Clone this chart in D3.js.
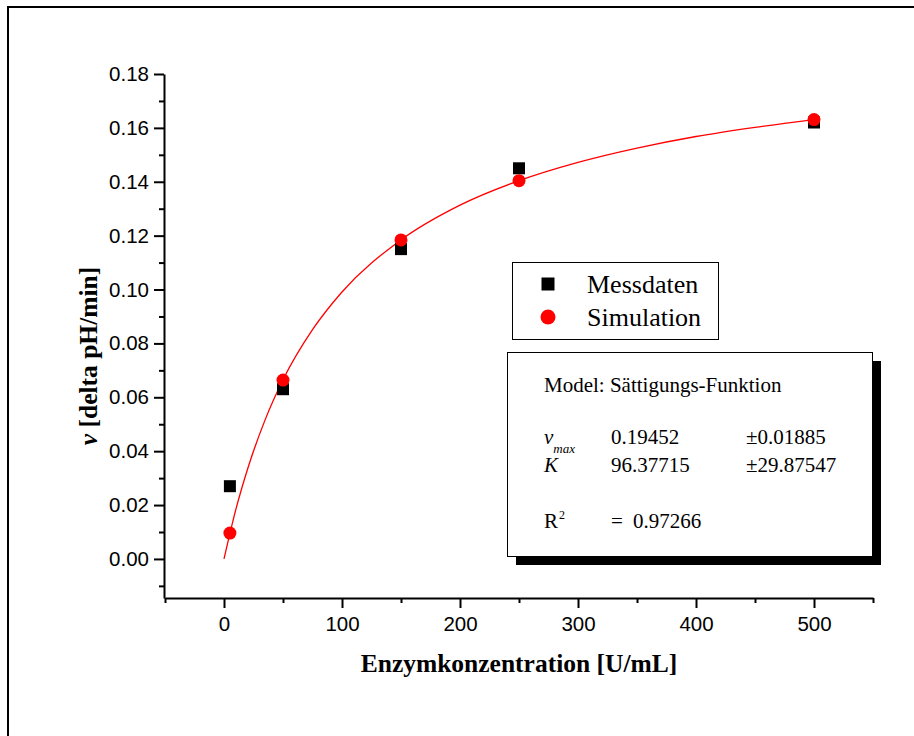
<!DOCTYPE html>
<html>
<head>
<meta charset="utf-8">
<script src="https://cdn.jsdelivr.net/npm/d3@7"></script>
<style>
  body { margin: 0; background: #fff; }
  svg { display: block; }
  .tick text { font-family: "Liberation Sans", Arial, sans-serif; font-size: 20.5px; fill: #000; }
  .axis path, .axis line { stroke: #000; stroke-width: 2px; }
  .serif { font-family: "Liberation Serif", "Times New Roman", serif; fill: #000; }
</style>
</head>
<body>
<svg></svg>
<script>
// enzyme concentration [U/mL]
const conc = [5, 50, 150, 250, 500];
const messdaten = [0.027, 0.063, 0.115, 0.145, 0.162];
const simulation = [0.0096, 0.0664, 0.1184, 0.1404, 0.1631];

// fitted saturation curve
const fitX = [0, 10, 20, 35, 50, 75, 100, 150, 200, 250, 300, 350, 400, 450, 500];
const fitY = [0, 0.0183, 0.0334, 0.0518, 0.0665, 0.0851, 0.0991, 0.1184, 0.1313, 0.1404, 0.1472, 0.1525, 0.1568, 0.1602, 0.1631];

const xTicks = [0, 100, 200, 300, 400, 500];
const xMinor = [-50, 50, 150, 250, 350, 450, 550];
const yTicks = [0, 0.02, 0.04, 0.06, 0.08, 0.10, 0.12, 0.14, 0.16, 0.18];
const yMinor = [-0.01, 0.01, 0.03, 0.05, 0.07, 0.09, 0.11, 0.13, 0.15, 0.17];

const legendNames = ['Messdaten', 'Simulation'];

const width = 914, height = 736;
const svg = d3.select('svg').attr('width', width).attr('height', height);

// page frame (left + top only)
svg.append('path')
    .attr('d', 'M8,' + height + 'V7H' + width)
    .attr('fill', 'none')
    .attr('stroke', '#000')
    .attr('stroke-width', 2);

const x = d3.scaleLinear().domain([-50, 550]).range([165, 873]);
const y = d3.scaleLinear().domain([-0.0145, 0.18]).range([598, 74]);

// minor ticks
svg.append('g')
    .attr('class', 'axis')
    .attr('transform', 'translate(0,598)')
    .call(d3.axisBottom(x).tickValues(xMinor).tickSize(5).tickFormat(''))
    .call(g => g.select('.domain').remove());
svg.append('g')
    .attr('class', 'axis')
    .attr('transform', 'translate(164,0)')
    .call(d3.axisLeft(y).tickValues(yMinor).tickSize(5).tickFormat(''))
    .call(g => g.select('.domain').remove());

// major axes
svg.append('g')
    .attr('class', 'axis')
    .attr('transform', 'translate(0,598)')
    .call(d3.axisBottom(x).tickValues(xTicks).tickSize(10).tickSizeOuter(0).tickPadding(8));
svg.append('g')
    .attr('class', 'axis')
    .attr('transform', 'translate(164,0)')
    .call(d3.axisLeft(y).tickValues(yTicks).tickSize(10).tickSizeOuter(0).tickPadding(5)
        .tickFormat(d3.format('.2f')));

// axis titles
svg.append('text')
    .attr('class', 'serif')
    .attr('x', (x.range()[0] + x.range()[1]) / 2)
    .attr('y', 672)
    .attr('text-anchor', 'middle')
    .attr('font-weight', 'bold')
    .attr('font-size', 25.5)
    .text('Enzymkonzentration [U/mL]');

const yTitle = svg.append('text')
    .attr('class', 'serif')
    .attr('transform', 'translate(97,356) rotate(-90)')
    .attr('text-anchor', 'middle')
    .attr('font-weight', 'bold')
    .attr('font-size', 25.5);
yTitle.append('tspan').attr('font-style', 'italic').text('v');
yTitle.append('tspan').text(' [delta pH/min]');

// fit curve
const line = d3.line()
    .x((d, i) => x(fitX[i]))
    .y(d => y(d))
    .curve(d3.curveMonotoneX);
svg.append('path')
    .datum(fitY)
    .attr('d', line)
    .attr('fill', 'none')
    .attr('stroke', '#ff0000')
    .attr('stroke-width', 1.3);

// measured points
const sq = 12;
svg.selectAll('.mess')
    .data(messdaten)
    .enter().append('rect')
    .attr('class', 'mess')
    .attr('x', (d, i) => x(conc[i]) - sq / 2)
    .attr('y', d => y(d) - sq / 2)
    .attr('width', sq)
    .attr('height', sq)
    .attr('fill', '#000');

// simulated points
svg.selectAll('.sim')
    .data(simulation)
    .enter().append('circle')
    .attr('class', 'sim')
    .attr('cx', (d, i) => x(conc[i]))
    .attr('cy', d => y(d))
    .attr('r', 6.5)
    .attr('fill', '#ff0000');

// legend
const legend = svg.append('g');
legend.append('rect')
    .attr('x', 512.5).attr('y', 262.5)
    .attr('width', 206).attr('height', 77)
    .attr('fill', '#fff').attr('stroke', '#000').attr('stroke-width', 1);
legend.append('rect')
    .attr('x', 548 - 6.5).attr('y', 284 - 6.5)
    .attr('width', 13).attr('height', 13)
    .attr('fill', '#000');
legend.append('circle')
    .attr('cx', 548).attr('cy', 317).attr('r', 7.5)
    .attr('fill', '#ff0000');
legend.selectAll('.lt')
    .data(legendNames)
    .enter().append('text')
    .attr('class', 'serif')
    .attr('x', 587)
    .attr('y', (d, i) => 293 + i * 33)
    .attr('font-size', 26)
    .text(d => d);

// fit result box with shadow
const box = svg.append('g');
box.append('rect')
    .attr('x', 516).attr('y', 361)
    .attr('width', 365).attr('height', 204)
    .attr('fill', '#000');
box.append('rect')
    .attr('x', 507.5).attr('y', 352.5)
    .attr('width', 365).attr('height', 204)
    .attr('fill', '#fff').attr('stroke', '#000').attr('stroke-width', 1);

const fs = 21;
function boxText(tx, ty, s) {
  return box.append('text').attr('class', 'serif')
      .attr('x', tx).attr('y', ty).attr('font-size', fs).text(s);
}
boxText(544, 392, 'Model: Sättigungs-Funktion');

const vm = box.append('text').attr('class', 'serif')
    .attr('x', 544).attr('y', 444).attr('font-size', fs);
vm.append('tspan').attr('font-style', 'italic').text('v');
vm.append('tspan').attr('font-style', 'italic').attr('font-size', 13)
    .attr('dy', 9).text('max');
boxText(611, 444, '0.19452');
boxText(746, 444, '±0.01885');

box.append('text').attr('class', 'serif')
    .attr('x', 544).attr('y', 472).attr('font-size', fs)
    .attr('font-style', 'italic').text('K');
boxText(611, 472, '96.37715');
boxText(746, 472, '±29.87547');

const r2 = box.append('text').attr('class', 'serif')
    .attr('x', 544).attr('y', 528).attr('font-size', fs);
r2.append('tspan').text('R');
r2.append('tspan').attr('font-size', 12).attr('dy', -9).attr('dx', 1).text('2');
boxText(611, 528, '=');
boxText(633, 528, '0.97266');
</script>
</body>
</html>
